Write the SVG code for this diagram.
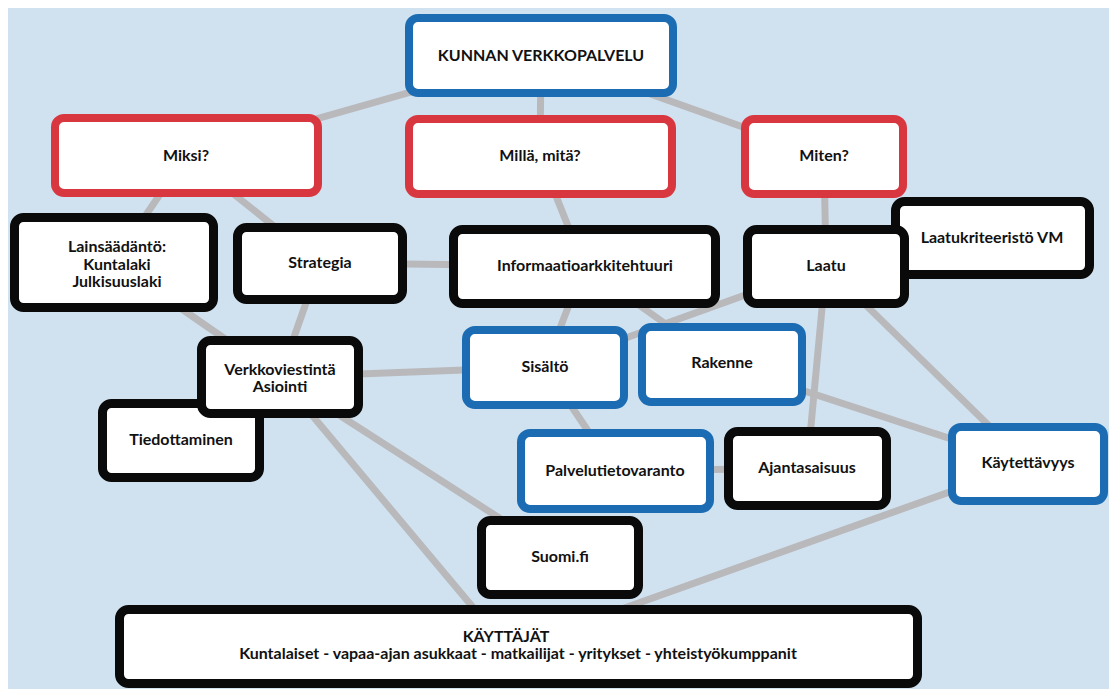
<svg xmlns="http://www.w3.org/2000/svg" width="1109" height="689" viewBox="0 0 1109 689">
  <style>
    .bg { fill: #d0e2f0; }
    .link { stroke: #b9b9bc; stroke-width: 7; stroke-linecap: butt; fill: none; }
    .box { fill: #ffffff; }
    .black { stroke: #0a0a0a; stroke-width: 9; }
    .blue { stroke: #1b6cb3; stroke-width: 8; }
    .red { stroke: #d9373f; stroke-width: 8; }
    text { font-family: Lato, "Liberation Sans", sans-serif; font-weight: 700; font-size: 16px; fill: #111111; text-anchor: middle; }
  </style>

  <rect class="bg" x="8" y="8" width="1101" height="681"/>

  <g id="connectors">
    <line class="link" x1="541" y1="55" x2="186" y2="156"/>
    <line class="link" x1="541" y1="55" x2="540" y2="156"/>
    <line class="link" x1="541" y1="55" x2="824" y2="156"/>
    <line class="link" x1="186" y1="156" x2="114" y2="262"/>
    <line class="link" x1="186" y1="156" x2="320" y2="263"/>
    <line class="link" x1="540" y1="156" x2="584" y2="266"/>
    <line class="link" x1="824" y1="156" x2="826" y2="266"/>
    <line class="link" x1="114" y1="262" x2="280" y2="377"/>
    <line class="link" x1="320" y1="263" x2="280" y2="377"/>
    <line class="link" x1="320" y1="263" x2="584" y2="266"/>
    <line class="link" x1="584" y1="266" x2="545" y2="367"/>
    <line class="link" x1="584" y1="266" x2="722" y2="364"/>
    <line class="link" x1="826" y1="266" x2="545" y2="367"/>
    <line class="link" x1="826" y1="266" x2="807" y2="468"/>
    <line class="link" x1="826" y1="266" x2="1028" y2="464"/>
    <line class="link" x1="722" y1="364" x2="1028" y2="464"/>
    <line class="link" x1="280" y1="377" x2="545" y2="367"/>
    <line class="link" x1="280" y1="377" x2="560" y2="557"/>
    <line class="link" x1="280" y1="377" x2="492" y2="630"/>
    <line class="link" x1="545" y1="367" x2="615" y2="471"/>
    <line class="link" x1="615" y1="471" x2="807" y2="468"/>
    <line class="link" x1="1028" y1="464" x2="518" y2="646"/>
  </g>

  <g id="kunnan-verkkopalvelu">
    <rect class="box blue" x="409" y="18" width="264" height="75" rx="9"/>
    <text x="541" y="61">KUNNAN VERKKOPALVELU</text>
  </g>

  <g id="miksi">
    <rect class="box red" x="55" y="118" width="263" height="75" rx="9"/>
    <text x="186" y="161">Miksi?</text>
  </g>

  <g id="milla-mita">
    <rect class="box red" x="409" y="119" width="263" height="75" rx="9"/>
    <text x="540" y="161">Millä, mitä?</text>
  </g>

  <g id="miten">
    <rect class="box red" x="745" y="119" width="158" height="75" rx="9"/>
    <text x="824" y="161">Miten?</text>
  </g>

  <g id="lainsaadanto">
    <rect class="box black" x="14.5" y="217.5" width="199" height="90" rx="9"/>
    <text x="117" y="252" font-size="15.5">Lainsäädäntö:</text>
    <text x="117" y="269.5" font-size="15.5">Kuntalaki</text>
    <text x="117" y="287" font-size="15.5">Julkisuuslaki</text>
  </g>

  <g id="strategia">
    <rect class="box black" x="237.5" y="227.5" width="165" height="72" rx="9"/>
    <text x="320" y="268">Strategia</text>
  </g>

  <g id="informaatioarkkitehtuuri">
    <rect class="box black" x="453.5" y="229.5" width="262" height="74" rx="9"/>
    <text x="585" y="271">Informaatioarkkitehtuuri</text>
  </g>

  <g id="laatukriteeristo">
    <rect class="box black" x="895.5" y="201.5" width="194" height="73" rx="9"/>
    <text x="992" y="243">Laatukriteeristö VM</text>
  </g>

  <g id="laatu">
    <rect class="box black" x="747.5" y="229.5" width="157" height="74" rx="9"/>
    <text x="826" y="271">Laatu</text>
  </g>

  <g id="tiedottaminen">
    <rect class="box black" x="102.5" y="403.5" width="157" height="74" rx="9"/>
    <text x="181" y="445">Tiedottaminen</text>
  </g>

  <g id="verkkoviestinta">
    <rect class="box black" x="201.5" y="340.5" width="157" height="73" rx="9"/>
    <text x="280" y="375">Verkkoviestintä</text>
    <text x="280" y="392">Asiointi</text>
  </g>

  <g id="sisalto">
    <rect class="box blue" x="466" y="330" width="158" height="75" rx="9"/>
    <text x="545" y="372">Sisältö</text>
  </g>

  <g id="rakenne">
    <rect class="box blue" x="642" y="327" width="160" height="75" rx="9"/>
    <text x="722" y="368">Rakenne</text>
  </g>

  <g id="palvelutietovaranto">
    <rect class="box blue" x="521" y="433" width="189" height="76" rx="9"/>
    <text x="615" y="476">Palvelutietovaranto</text>
  </g>

  <g id="ajantasaisuus">
    <rect class="box black" x="728.5" y="431.5" width="158" height="74" rx="9"/>
    <text x="807" y="473">Ajantasaisuus</text>
  </g>

  <g id="kaytettavyys">
    <rect class="box blue" x="952" y="427" width="152" height="74" rx="9"/>
    <text x="1028" y="468">Käytettävyys</text>
  </g>

  <g id="suomi-fi">
    <rect class="box black" x="481.5" y="520.5" width="157" height="74" rx="9"/>
    <text x="560" y="562">Suomi.fi</text>
  </g>

  <g id="kayttajat">
    <rect class="box black" x="119.5" y="609.5" width="798" height="74" rx="9"/>
    <text x="506" y="642" font-size="13">KÄYTTÄJÄT</text>
    <text x="518" y="659" font-size="16.5">Kuntalaiset - vapaa-ajan asukkaat - matkailijat - yritykset - yhteistyökumppanit</text>
  </g>
</svg>
